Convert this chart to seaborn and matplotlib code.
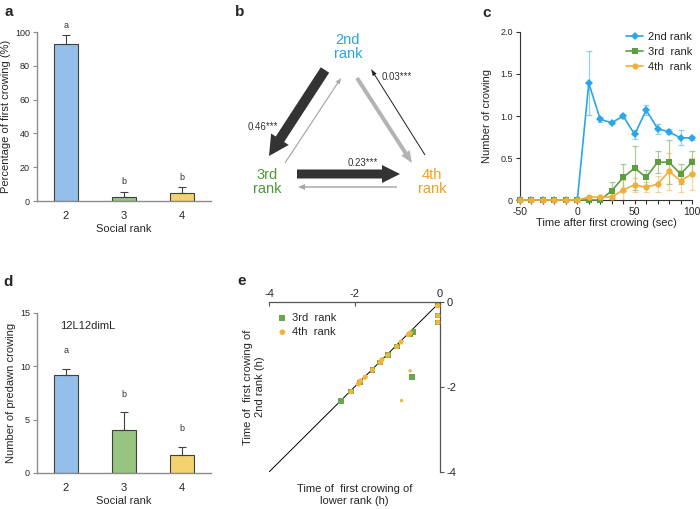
import matplotlib
matplotlib.use('Agg')
import matplotlib.pyplot as plt
from matplotlib.ticker import MultipleLocator
import seaborn as sns
import pandas as pd

# ---- data ----
rank_labels = ['2', '3', '4']
first_crow_pct = [93, 2.5, 5]
first_crow_err = [5, 3, 3]
first_crow_sig = ['a', 'b', 'b']

predawn_crow = [9.2, 4.05, 1.7]
predawn_err = [0.55, 1.65, 0.75]
predawn_sig = ['a', 'b', 'b']

time_sec = [-50, -40, -30, -20, -10, 0, 10, 20, 30, 40, 50, 60, 70, 80, 90, 100]
crow_2nd = [0, 0, 0, 0, 0, 0, 1.39, 0.96, 0.92, 1.0, 0.78, 1.07, 0.85, 0.81, 0.74, 0.74]
err_2nd = [0, 0, 0, 0, 0, 0, 0.38, 0.03, 0.02, 0.02, 0.05, 0.06, 0.06, 0.03, 0.09, 0.02]
crow_3rd = [0, 0, 0, 0, 0, 0, 0, 0, 0.11, 0.27, 0.38, 0.27, 0.45, 0.45, 0.31, 0.45]
err_3rd = [0, 0, 0, 0, 0, 0, 0, 0, 0.1, 0.16, 0.26, 0.09, 0.13, 0.26, 0.12, 0.13]
crow_4th = [0, 0, 0, 0, 0, 0, 0.035, 0.035, 0.035, 0.12, 0.18, 0.15, 0.19, 0.34, 0.23, 0.31]
err_4th = [0, 0, 0, 0, 0, 0, 0, 0, 0.03, 0.12, 0.08, 0.06, 0.1, 0.22, 0.13, 0.19]
series_names = ['2nd rank', '3rd  rank', '4th  rank']

# panel e: first crowing time of lower rank (x) vs 2nd rank (y), hours
third_x = [-0.05, -0.05, -0.05, -0.62, -0.70, -1.01, -1.22, -1.40, -1.58, -1.87, -2.08, -2.32, -0.66]
third_y = [-0.06, -0.32, -0.48, -0.71, -0.76, -1.05, -1.25, -1.42, -1.60, -1.89, -2.11, -2.33, -1.76]
fourth_x = [-0.05, -0.05, -0.05, -0.70, -0.74, -0.91, -1.01, -1.22, -1.36, -1.40, -1.58, -1.75, -1.86, -1.91, -2.08]
fourth_y = [-0.09, -0.32, -0.48, -0.73, -0.77, -0.94, -1.05, -1.25, -1.36, -1.42, -1.60, -1.77, -1.86, -1.93, -2.11]
fourth_off_x = [-0.70, -0.90]
fourth_off_y = [-1.62, -2.32]

# panel b: transition labels
trans_labels = ['0.46***', '0.03***', '0.23***']
node_names = ['2nd\nrank', '3rd\nrank', '4th\nrank']

# ---- style ----
sns.set_style('white')
plt.rcParams['font.family'] = ['Liberation Sans', 'DejaVu Sans']
plt.rcParams['axes.unicode_minus'] = False

GRAY = '#8c8c8c'
EDGE = '#404040'
bar_colors = ['#93bfe9', '#97c47f', '#f3d26f']
line_colors = ['#2aa7e6', '#5c9e3c', '#f0ae3a']
node_colors = ['#27a6e8', '#4f9a33', '#eea11e']
e_green = '#66a84a'
e_orange = '#f2b43c'

fig = plt.figure(figsize=(7, 5.09), dpi=100)
W, H = 700, 509


def add_ax(left, top, right, bottom):
    return fig.add_axes([left / W, 1 - bottom / H, (right - left) / W, (bottom - top) / H])


def bar_panel(ax, vals, errs, sig, ymax, ystep, ylabel, sig_offset):
    df = pd.DataFrame({'Social rank': rank_labels, 'value': vals})
    sns.barplot(data=df, x='Social rank', y='value', hue='Social rank', palette=bar_colors,
                legend=False, width=0.4, saturation=1, edgecolor=EDGE, linewidth=0.8,
                errorbar=None, ax=ax)
    ax.errorbar(range(len(vals)), vals, yerr=[[0] * len(vals), errs], fmt='none',
                ecolor=EDGE, elinewidth=0.8, capsize=3, capthick=0.8)
    for i, (v, e, s) in enumerate(zip(vals, errs, sig)):
        ax.annotate(s, (i, v + e), xytext=(0, sig_offset), textcoords='offset points',
                    ha='center', va='center', fontsize=6.5, color='#333333')
    ax.set_xlim(-0.5, 2.5)
    ax.set_ylim(0, ymax)
    ax.yaxis.set_major_locator(MultipleLocator(ystep))
    for side in ['top', 'right']:
        ax.spines[side].set_visible(False)
    for side in ['left', 'bottom']:
        ax.spines[side].set_color(GRAY)
        ax.spines[side].set_linewidth(1)
    ax.tick_params(axis='y', left=True, length=3, color=GRAY, labelsize=6.5, pad=2)
    ax.tick_params(axis='x', bottom=False, labelsize=8, pad=4)
    ax.set_xlabel('Social rank', fontsize=8, labelpad=2)
    ax.set_ylabel(ylabel, fontsize=8, labelpad=3)


# ---- a ----
ax_a = add_ax(37, 32, 211, 201)
bar_panel(ax_a, first_crow_pct, first_crow_err, first_crow_sig, 100, 20,
          'Percentage of first crowing (%)', 7)

# ---- d ----
ax_d = add_ax(37, 313, 211, 473)
bar_panel(ax_d, predawn_crow, predawn_err, predawn_sig, 15, 5,
          'Number of predawn crowing', 13)
ax_d.text(0.13, 0.92, '12L12dimL', transform=ax_d.transAxes, fontsize=8, va='center')

# ---- c ----
ax_c = add_ax(520, 32, 692, 200)
df_c = pd.DataFrame({
    'Time': time_sec * 3,
    'Crowing': crow_2nd + crow_3rd + crow_4th,
    'Rank': [n for n in series_names for _ in time_sec],
})
for vals, errs, col in zip([crow_2nd, crow_3rd, crow_4th], [err_2nd, err_3rd, err_4th], line_colors):
    ax_c.errorbar(time_sec, vals, yerr=errs, fmt='none', ecolor=col, alpha=0.5,
                  elinewidth=0.9, capsize=2, capthick=0.9, zorder=1, clip_on=False)
sns.lineplot(data=df_c, x='Time', y='Crowing', hue='Rank', style='Rank',
             markers=['D', 's', 'o'], dashes=False, palette=line_colors,
             markersize=4.5, markeredgewidth=0, linewidth=1.2, ax=ax_c, zorder=3,
             clip_on=False)
ax_c.set_xlim(-50, 100)
ax_c.set_ylim(0, 2.0)
ax_c.set_xticks(time_sec)
ax_c.set_xticklabels([str(t) if t % 50 == 0 else '' for t in time_sec])
ax_c.set_yticks([0, 0.5, 1.0, 1.5, 2.0])
ax_c.set_yticklabels(['0', '0.5', '1.0', '1.5', '2.0'])
for side in ['top', 'right']:
    ax_c.spines[side].set_visible(False)
for side in ['left', 'bottom']:
    ax_c.spines[side].set_color('#333333')
    ax_c.spines[side].set_linewidth(0.8)
ax_c.tick_params(axis='x', bottom=True, length=3, color='#333333', labelsize=7.5, pad=2)
ax_c.tick_params(axis='y', left=True, length=3, color='#333333', labelsize=6.5, pad=2)
ax_c.set_xlabel('Time after first crowing (sec)', fontsize=8, labelpad=1)
ax_c.set_ylabel('Number of crowing', fontsize=8, labelpad=6)
ax_c.legend(title=None, frameon=False, fontsize=8, loc='upper right',
            bbox_to_anchor=(1.04, 1.04), handlelength=1.6, handletextpad=0.4,
            labelspacing=0.45, borderaxespad=0.2)

# ---- e ----
ax_e = add_ax(269, 302, 440, 472)
ax_e.plot([-4, 0], [-4, 0], color='black', lw=0.7, zorder=1)
sns.scatterplot(x=third_x, y=third_y, marker='s', color=e_green, s=16, edgecolor='none',
                label='3rd  rank', ax=ax_e, zorder=2, clip_on=False)
sns.scatterplot(x=fourth_x, y=fourth_y, marker='o', color=e_orange, s=14, edgecolor='none',
                label='4th  rank', ax=ax_e, zorder=3, clip_on=False)
sns.scatterplot(x=fourth_off_x, y=fourth_off_y, marker='o', color=e_orange, s=6,
                edgecolor='none', ax=ax_e, zorder=3)
ax_e.set_xlim(-4, 0)
ax_e.set_ylim(-4, 0)
ax_e.set_xticks([-4, -2, 0])
ax_e.set_yticks([-4, -2, 0])
ax_e.xaxis.tick_top()
ax_e.yaxis.tick_right()
for side in ['left', 'bottom']:
    ax_e.spines[side].set_visible(False)
for side in ['top', 'right']:
    ax_e.spines[side].set_color('#555555')
    ax_e.spines[side].set_linewidth(0.9)
ax_e.tick_params(axis='x', top=True, direction='in', length=3, color='#555555', labelsize=8, pad=2)
ax_e.tick_params(axis='y', right=True, direction='out', length=3, color='#555555', labelsize=8, pad=2)
ax_e.xaxis.set_label_position('bottom')
ax_e.yaxis.set_label_position('left')
ax_e.set_xlabel('Time of  first crowing of\nlower rank (h)', fontsize=8, labelpad=9)
ax_e.set_ylabel('Time of  first crowing of\n2nd rank (h)', fontsize=8, labelpad=3)
ax_e.legend(frameon=False, fontsize=8, loc='upper left', bbox_to_anchor=(0.02, 0.97),
            handlelength=0.8, handletextpad=0.5, labelspacing=0.4, borderaxespad=0.1,
            markerscale=1.1)

# ---- b (diagram, axes in pixel units) ----
ax_b = add_ax(230, 0, 470, 240)
ax_b.set_xlim(230, 470)
ax_b.set_ylim(240, 0)
ax_b.axis('off')

node_xy = [(348, 47), (267, 182), (432, 182)]
for name, (nx, ny), col in zip(node_names, node_xy, node_colors):
    ax_b.text(nx, ny, name, color=col, fontsize=10.5, ha='center', va='center', linespacing=1.0)

# (tail x, tail y, tip x, tip y, body width, head width, head length, colour)
arrows = [
    (325, 70, 269, 156, 10, 21, 20, '#333333'),
    (285, 163, 341, 78, 1.2, 5, 6, '#a8a8a8'),
    (357, 78, 412, 163, 4, 10, 12, '#b3b3b3'),
    (425, 155, 371, 69, 1.0, 4.5, 7, '#222222'),
    (297, 174, 400, 174, 9, 18, 18, '#333333'),
    (397, 187, 298, 187, 1.5, 6, 7, '#a8a8a8'),
]
for x0, y0, x1, y1, w, hw, hl, col in arrows:
    ax_b.arrow(x0, y0, x1 - x0, y1 - y0, width=w, head_width=hw, head_length=hl,
               length_includes_head=True, color=col, lw=0)

label_xy = [(263, 127), (397, 77), (363, 163)]
for lab, (lx, ly) in zip(trans_labels, label_xy):
    ax_b.text(lx, ly, lab, fontsize=7, ha='center', va='center', color='#333333')

# panel letters
for letter, (px, py) in zip('abcde', [(9, 12), (240, 12), (487, 13), (8, 282), (242, 281)]):
    fig.text(px / W, 1 - py / H, letter, fontsize=11, fontweight='bold', ha='center', va='center')

fig.savefig('out.png', dpi=100)
